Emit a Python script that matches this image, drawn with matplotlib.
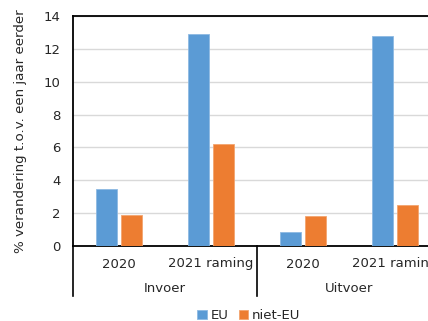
import numpy as np
import matplotlib
matplotlib.use('Agg')
import matplotlib.pyplot as plt
import matplotlib.transforms as mtransforms

# gegevens
jaren = ['2020', '2021 raming', '2020', '2021 raming']
groepen = ['Invoer', 'Uitvoer']
eu = [3.45, 12.9, 0.85, 12.8]
niet_eu = [1.9, 6.2, 1.8, 2.5]

plt.rcParams['font.family'] = ['DejaVu Sans']
tekst_kleur = '#262626'

fig = plt.figure(figsize=(4.28, 3.21), dpi=100)
# de grafiek loopt rechts buiten het beeld door (zoals in het origineel)
ax = fig.add_axes([73 / 428, 1 - 246 / 321, 368 / 428, 230 / 321])

x = np.arange(len(jaren))
breedte = 0.228
ax.bar(x - 0.141, eu, breedte, color='#5B9BD5', edgecolor='#8DB9E3', linewidth=0.6, label='EU', zorder=3)
ax.bar(x + 0.141, niet_eu, breedte, color='#ED7D31', edgecolor='#F3A46F', linewidth=0.6, label='niet-EU', zorder=3)

ax.set_xlim(-0.5, 3.5)
ax.set_ylim(0, 14)
ax.set_yticks(np.arange(0, 15, 2))
ax.tick_params(axis='y', length=0, pad=9, labelsize=9.5, labelcolor=tekst_kleur)
ax.set_xticks([])
ax.grid(axis='y', color='#D9D9D9', linewidth=1, zorder=0)

for kant in ['left', 'top', 'bottom']:
    ax.spines[kant].set_color('black')
    ax.spines[kant].set_linewidth(1.3)
ax.spines['right'].set_visible(False)

ax.set_ylabel('% verandering t.o.v. een jaar eerder', fontsize=9.6, color=tekst_kleur, labelpad=12)

# categorie-as met twee niveaus
trans = mtransforms.blended_transform_factory(ax.transData, ax.transAxes)
onder = (246 - 296) / 230
for xs in [-0.5, 1.5]:
    ax.plot([xs, xs], [0, onder], color='black', lw=1.2, transform=trans, clip_on=False)
for i, jaar in enumerate(jaren):
    ax.text(i, (246 - 264) / 230, jaar, transform=trans, ha='center', va='center',
            fontsize=9.5, color=tekst_kleur)
for j, groep in enumerate(groepen):
    ax.text(2 * j + 0.5, (246 - 289) / 230, groep, transform=trans, ha='center', va='center',
            fontsize=9.5, color=tekst_kleur)

fig.legend(loc='center', bbox_to_anchor=(249 / 428, 1 - 315.5 / 321), ncol=2, frameon=False,
           fontsize=9.5, handlelength=0.7, handleheight=0.7, handletextpad=0.3,
           columnspacing=0.8, labelcolor=tekst_kleur)

fig.savefig('out.png', dpi=100)
